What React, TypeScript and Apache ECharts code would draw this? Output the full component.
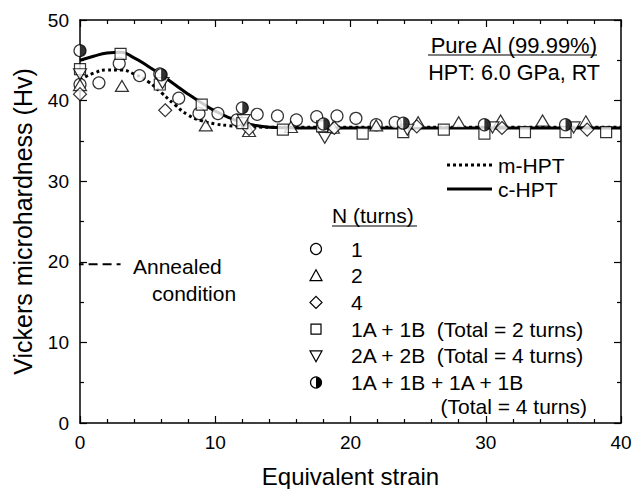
import React, { useEffect, useRef } from "react";
import * as echarts from "echarts";

// N = 1 (open circles)
const circleX = [0, 1.4, 2.9, 4.4, 5.9, 7.3, 8.8, 10.2, 11.6, 13.1, 14.6, 16.0, 17.5, 19.0, 20.4, 21.9, 23.3];
const circleY = [42.0, 42.2, 44.6, 43.1, 43.3, 40.3, 38.4, 38.4, 37.6, 38.3, 38.1, 37.6, 38.0, 38.1, 37.8, 37.0, 37.3];
// N = 2 (open triangles)
const triUpX = [0, 3.1, 9.3, 12.5, 15.6, 18.7, 21.9, 25.0, 28.0, 31.1, 34.2, 37.4];
const triUpY = [41.8, 41.7, 36.8, 36.1, 36.6, 36.5, 36.8, 37.2, 37.2, 37.4, 37.4, 37.3];
// N = 4 (open diamonds)
const diamondX = [0, 6.3, 12.5, 18.8, 24.9, 31.2, 37.5];
const diamondY = [40.8, 38.8, 36.5, 36.6, 36.8, 36.6, 36.4];
// 1A + 1B (open squares)
const squareX = [0, 3.0, 5.9, 9.0, 12.0, 15.0, 17.9, 20.9, 23.9, 26.9, 29.9, 32.9, 35.9, 38.9];
const squareY = [43.9, 45.8, 42.0, 39.5, 37.2, 36.4, 36.8, 35.9, 36.1, 36.4, 35.9, 36.1, 36.1, 36.1];
// 2A + 2B (open inverted triangles)
const triDownX = [0, 6.1, 12.1, 18.1, 24.2, 30.5, 36.5];
const triDownY = [43.4, 42.3, 37.7, 35.5, 36.5, 36.8, 36.8];
// 1A + 1B + 1A + 1B (half-filled circles)
const halfX = [0, 6.0, 12.0, 18.0, 23.9, 29.9, 35.9];
const halfY = [46.2, 43.2, 39.1, 37.1, 37.2, 37.0, 37.0];

// fitted curves
const cHptX = [0, 1, 2, 3, 4, 5, 6, 7, 8, 9, 10, 11, 12, 13, 14, 16, 20, 30, 40];
const cHptY = [45.0, 45.5, 45.9, 46.0, 45.3, 44.3, 43.2, 42.0, 40.8, 39.7, 38.7, 37.9, 37.3, 36.9, 36.7, 36.6, 36.6, 36.6, 36.6];
const mHptX = [0, 1, 2, 3, 4, 5, 6, 7, 8, 9, 10, 11, 12, 14, 20, 30, 40];
const mHptY = [42.6, 43.4, 43.8, 43.8, 43.3, 42.4, 41.0, 39.5, 38.2, 37.5, 37.1, 36.9, 36.8, 36.7, 36.7, 36.7, 36.7];

// annealed reference
const annealedX = [-0.4, 3.0];
const annealedY = [19.7, 19.7];

const xTicks = { min: 0, max: 40, interval: 10 };
const yTicks = { min: 0, max: 50, interval: 10 };

const legendLabels = [
  "1",
  "2",
  "4",
  "1A + 1B  (Total = 2 turns)",
  "2A + 2B  (Total = 4 turns)",
  "1A + 1B + 1A + 1B",
];

const FONT = "Liberation Sans, Arial, sans-serif";
const zip = (xs: number[], ys: number[]) => xs.map((x, i) => [x, ys[i]]);

const TRI_DOWN = "path://M0,0L2,0L1,1.732Z";
const HALF_DISC = "path://M0,0A1,1 0 0 1 0,2Z";

export default function App() {
  const ref = useRef<HTMLDivElement>(null);
  useEffect(() => {
    const chart = echarts.init(ref.current!, null, { renderer: "svg" });
    const open = { color: "#fff", borderColor: "#000", borderWidth: 1.2 };
    const axisCommon = {
      type: "value" as const,
      axisLine: { show: true, onZero: false, lineStyle: { color: "#000", width: 1.5 } },
      axisTick: { show: true, inside: true, length: 7, lineStyle: { color: "#000", width: 1.2 } },
      minorTick: { show: true, length: 4, lineStyle: { color: "#000", width: 1.2 } },
      splitLine: { show: false },
    };
    const labelStyle = { fontSize: 19, color: "#000", fontFamily: FONT };

    // legend glyphs
    const lx = 316;
    const ly0 = 249;
    const dy = 26.7;
    const gl: any[] = [];
    const st = { fill: "#fff", stroke: "#000", lineWidth: 1.2 };
    gl.push({ type: "circle", shape: { cx: lx, cy: ly0, r: 5.5 }, style: st });
    gl.push({ type: "polygon", shape: { points: [[lx - 6, ly0 + dy + 5], [lx + 6, ly0 + dy + 5], [lx, ly0 + dy - 6]] }, style: st });
    gl.push({ type: "polygon", shape: { points: [[lx - 6, ly0 + 2 * dy], [lx, ly0 + 2 * dy - 6], [lx + 6, ly0 + 2 * dy], [lx, ly0 + 2 * dy + 6]] }, style: st });
    gl.push({ type: "rect", shape: { x: lx - 5, y: ly0 + 3 * dy - 5, width: 10, height: 10 }, style: st });
    gl.push({ type: "polygon", shape: { points: [[lx - 6, ly0 + 4 * dy - 5], [lx + 6, ly0 + 4 * dy - 5], [lx, ly0 + 4 * dy + 6]] }, style: st });
    gl.push({ type: "circle", shape: { cx: lx, cy: ly0 + 5 * dy, r: 5.5 }, style: st });
    gl.push({ type: "sector", shape: { cx: lx, cy: ly0 + 5 * dy, r: 5.5, r0: 0, startAngle: -Math.PI / 2, endAngle: Math.PI / 2, clockwise: true }, style: { fill: "#000" } });
    legendLabels.forEach((t, i) => {
      gl.push({ type: "text", x: 351, y: ly0 + i * dy, style: { text: t, fontSize: 21, fontFamily: FONT, fill: "#000", verticalAlign: "middle" } });
    });
    gl.push({ type: "text", x: 587, y: ly0 + 6 * dy - 3, style: { text: "(Total = 4 turns)", fontSize: 21, fontFamily: FONT, fill: "#000", align: "right", verticalAlign: "middle" } });
    gl.push({ type: "text", x: 332, y: 215, style: { text: "N (turns)", fontSize: 21, fontFamily: FONT, fill: "#000", verticalAlign: "middle" } });
    gl.push({ type: "line", shape: { x1: 332, y1: 226, x2: 417, y2: 226 }, style: { stroke: "#000", lineWidth: 1.2 } });

    // curve legend
    gl.push({ type: "line", shape: { x1: 447, y1: 165, x2: 492, y2: 165 }, style: { stroke: "#000", lineWidth: 3, lineDash: [3, 3] } });
    gl.push({ type: "line", shape: { x1: 447, y1: 189, x2: 492, y2: 189 }, style: { stroke: "#000", lineWidth: 3 } });
    gl.push({ type: "text", x: 498, y: 165, style: { text: "m-HPT", fontSize: 21, fontFamily: FONT, fill: "#000", verticalAlign: "middle" } });
    gl.push({ type: "text", x: 498, y: 189, style: { text: "c-HPT", fontSize: 21, fontFamily: FONT, fill: "#000", verticalAlign: "middle" } });

    // material annotation
    gl.push({ type: "text", x: 597, y: 45, style: { text: "Pure Al (99.99%)", fontSize: 22, fontFamily: FONT, fill: "#000", align: "right", verticalAlign: "middle" } });
    gl.push({ type: "line", shape: { x1: 428, y1: 55, x2: 597, y2: 55 }, style: { stroke: "#000", lineWidth: 1.2 } });
    gl.push({ type: "text", x: 600, y: 73, style: { text: "HPT: 6.0 GPa, RT", fontSize: 21.5, fontFamily: FONT, fill: "#000", align: "right", verticalAlign: "middle" } });

    // annealed annotation
    gl.push({ type: "text", x: 133, y: 266, style: { text: "Annealed", fontSize: 21, fontFamily: FONT, fill: "#000", verticalAlign: "middle" } });
    gl.push({ type: "text", x: 152, y: 293, style: { text: "condition", fontSize: 21, fontFamily: FONT, fill: "#000", verticalAlign: "middle" } });

    const option: any = {
      animation: false,
      backgroundColor: "#fff",
      grid: { left: 80, right: 12, top: 20, bottom: 66, containLabel: false, outerBoundsMode: "none" },
      xAxis: [
        {
          ...axisCommon,
          ...xTicks,
          position: "bottom",
          minorTick: { ...axisCommon.minorTick, splitNumber: 5 },
          axisLabel: { ...labelStyle, margin: 10 },
          name: "Equivalent strain",
          nameLocation: "middle",
          nameGap: 41,
          nameTextStyle: { fontSize: 24, color: "#000", fontFamily: FONT },
        },
        {
          ...axisCommon,
          ...xTicks,
          position: "top",
          minorTick: { ...axisCommon.minorTick, splitNumber: 5 },
          axisLabel: { show: false },
        },
      ],
      yAxis: [
        {
          ...axisCommon,
          ...yTicks,
          position: "left",
          minorTick: { ...axisCommon.minorTick, splitNumber: 2 },
          axisLabel: { ...labelStyle, margin: 11 },
          name: "Vickers microhardness (Hv)",
          nameLocation: "middle",
          nameGap: 45,
          nameTextStyle: { fontSize: 25, color: "#000", fontFamily: FONT },
        },
        {
          ...axisCommon,
          ...yTicks,
          position: "right",
          minorTick: { ...axisCommon.minorTick, splitNumber: 2 },
          axisLabel: { show: false },
        },
      ],
      graphic: gl,
      series: [
        {
          type: "line",
          name: "Annealed",
          data: zip(annealedX, annealedY),
          showSymbol: false,
          clip: false,
          lineStyle: { color: "#000", width: 2, type: [9, 5] },
          z: 1,
        },
        {
          type: "line",
          name: "m-HPT",
          data: zip(mHptX, mHptY),
          showSymbol: false,
          smooth: 0.5,
          lineStyle: { color: "#000", width: 3, type: [3, 3] },
          z: 1,
        },
        {
          type: "line",
          name: "c-HPT",
          data: zip(cHptX, cHptY),
          showSymbol: false,
          smooth: 0.5,
          lineStyle: { color: "#000", width: 3 },
          z: 1,
        },
        { type: "scatter", name: "1", data: zip(circleX, circleY), symbol: "circle", symbolSize: 12, itemStyle: open, z: 3 },
        { type: "scatter", name: "2", data: zip(triUpX, triUpY), symbol: "triangle", symbolSize: [13, 11], symbolOffset: [0, -1], itemStyle: open, z: 3 },
        { type: "scatter", name: "4", data: zip(diamondX, diamondY), symbol: "diamond", symbolSize: [13, 13], itemStyle: open, z: 3 },
        { type: "scatter", name: "1A + 1B", data: zip(squareX, squareY), symbol: "rect", symbolSize: 11, itemStyle: open, z: 3 },
        { type: "scatter", name: "2A + 2B", data: zip(triDownX, triDownY), symbol: TRI_DOWN, symbolSize: [13, 11], symbolOffset: [0, 1], itemStyle: open, z: 3 },
        { type: "scatter", name: "1A + 1B + 1A + 1B", data: zip(halfX, halfY), symbol: "circle", symbolSize: 12, itemStyle: open, z: 3 },
        { type: "scatter", name: "1A + 1B + 1A + 1B (fill)", data: zip(halfX, halfY), symbol: HALF_DISC, symbolSize: [6, 12], symbolOffset: [3, 0], itemStyle: { color: "#000" }, z: 4 },
      ],
    };
    chart.setOption(option);
    return () => chart.dispose();
  }, []);
  return <div ref={ref} style={{ position: "fixed", left: 0, top: 0, width: 633, height: 489 }} />;
}
